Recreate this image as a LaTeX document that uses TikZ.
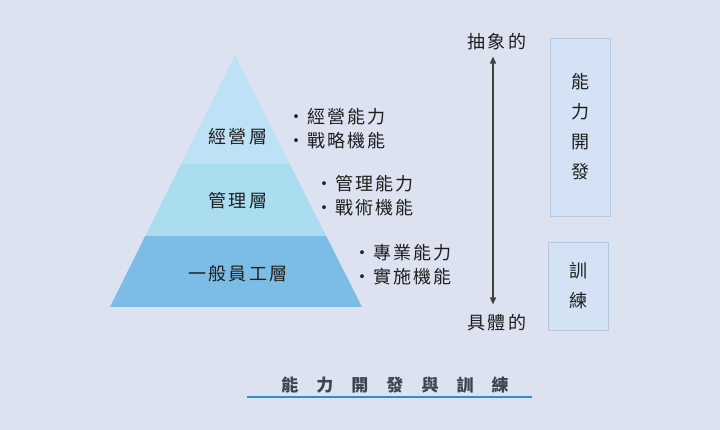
\documentclass[tikz,border=0pt]{standalone}
\usepackage{fontspec}
\usetikzlibrary{calc,arrows.meta}
\newfontfamily\cjk[LetterSpace=12]{Noto Sans CJK TC}
\newfontfamily\cjktitle[LetterSpace=106]{Noto Sans CJK TC}
\definecolor{bg}{HTML}{DDE2F1}
\definecolor{bandA}{HTML}{BEE2F5}
\definecolor{bandB}{HTML}{ABDDF0}
\definecolor{bandC}{HTML}{7CBDE6}
\definecolor{boxfill}{HTML}{D3E2F5}
\definecolor{boxline}{HTML}{B5C8E2}
\definecolor{ink}{HTML}{1E1E1E}
\definecolor{titleink}{HTML}{3F4450}
\definecolor{rule}{HTML}{2E8FCF}
\tikzset{
  lbl/.style={font=\cjk\fontsize{18}{18}\selectfont, text=ink, inner sep=0pt},
  bul/.style={font=\cjk\fontsize{18}{24}\selectfont, text=ink, inner sep=0pt, align=left, anchor=west},
  sidebox/.style={draw=boxline, fill=boxfill, line width=0.8pt, minimum width=60pt,
    font=\cjk\fontsize{18}{30}\selectfont, text=ink, align=center, inner sep=0pt},
}
\begin{document}
\begin{tikzpicture}[x=1pt,y=-1pt]
\fill[bg] (0,0) rectangle (720,430);
\useasboundingbox (0,0) rectangle (720,430);
% pyramid
\coordinate (A) at (235,55);
\coordinate (L) at (110,307);
\coordinate (R) at (362,307);
\coordinate (L1) at ($(A)!0.4325!(L)$);
\coordinate (R1) at ($(A)!0.4325!(R)$);
\coordinate (L2) at ($(A)!0.7183!(L)$);
\coordinate (R2) at ($(A)!0.7183!(R)$);
\fill[bandA] (A) -- (R1) -- (L1) -- cycle;
\fill[bandB] (L1) -- (R1) -- (R2) -- (L2) -- cycle;
\fill[bandC] (L2) -- (R2) -- (R) -- (L) -- cycle;
\node[lbl] (n1) at (238,137) {經營層};
\node[lbl] (n2) at (238,201) {管理層};
\node[lbl] (n3) at (238,274) {一般員工層};
% bullets
\node[bul] (b1) at (287,129) {・經營能力\\・戰略機能};
\node[bul] (b2) at (315,196) {・管理能力\\・戰術機能};
\node[bul] (b3) at (353,265) {・專業能力\\・實施機能};
% axis
\node[lbl] (top) at (497,42) {抽象的};
\node[lbl] (bot) at (497,323) {具體的};
\draw[ink!85, line width=1.5pt, {Triangle[length=7pt,width=6pt]}-{Triangle[length=7pt,width=6pt]}]
  ([xshift=-4pt,yshift=-6pt]top.south) -- ([xshift=-4pt,yshift=10pt]bot.north);
% side boxes
\node[sidebox, minimum height=178pt] (s1) at (580,127) {能\\力\\開\\發};
\node[sidebox, minimum height=88pt] (s2) at (578,286) {訓\\練};
% title
\node[font=\cjktitle\bfseries\fontsize{17}{17}\selectfont, text=titleink, inner sep=0pt] (title) at (395,385) {能力開發與訓練};
\coordinate (ruleL) at (247,397);
\coordinate (ruleR) at (532,397);
\draw[rule, line width=2.8pt] (ruleL) -- (ruleR);
\end{tikzpicture}
\end{document}
